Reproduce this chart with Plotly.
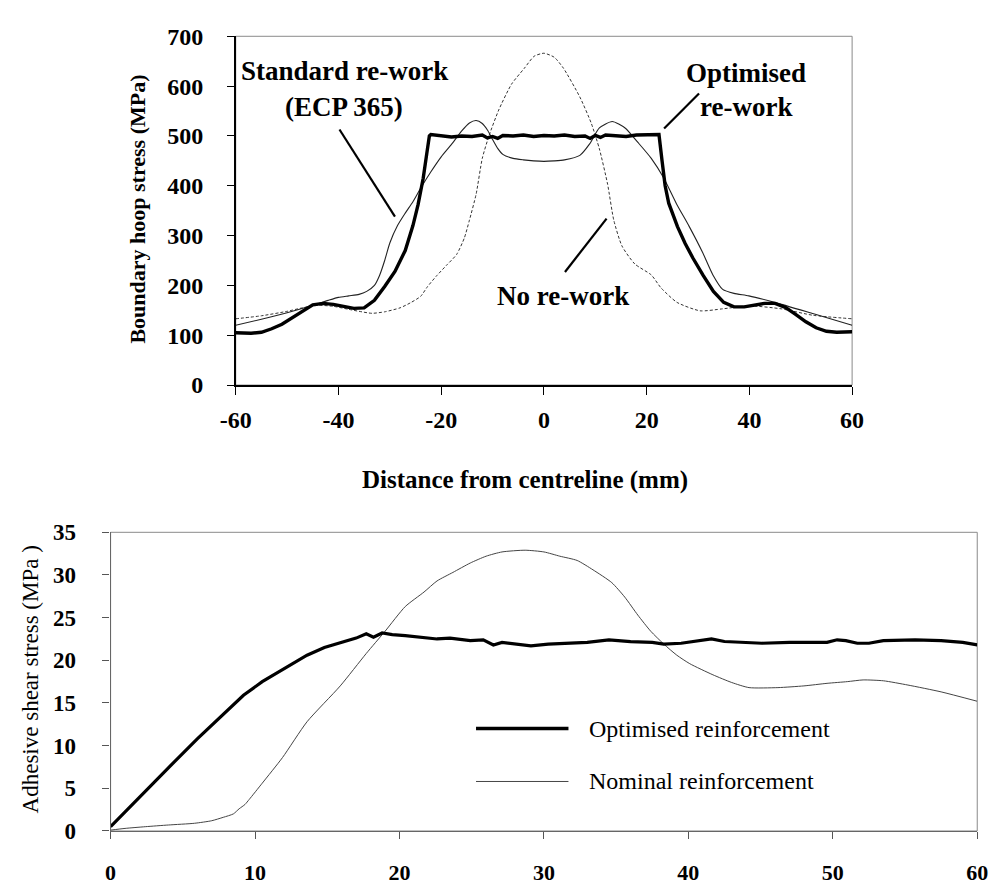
import plotly.graph_objects as go

W, H = 1008, 886
SERIF = "Liberation Serif"

# ---------------- Top chart data (boundary hoop stress) ----------------
opt_x = [-60, -57, -55, -53, -51, -49, -47, -45, -43, -41, -39, -37, -35, -33, -31, -29, -27,
         -25.5, -24.5, -23.5, -22.8, -22.3, -22, -20, -18, -16, -14, -12, -11, -10, -9, -8, -6,
         -4, -2, 0, 2, 4, 6, 8, 9, 10, 11, 12, 14, 16, 18, 20, 22, 22.4, 23.0, 23.6, 24.3, 25,
         26, 27.5, 29, 31, 33, 35, 37, 39, 41, 43, 45, 47, 49, 51, 53, 55, 57, 60]
opt_v = [105, 104, 106, 113, 122, 135, 150, 161, 164, 162, 158, 154, 155, 170, 198, 228, 270,
         320, 362, 415, 465, 500, 503, 501, 498, 500, 499, 502, 496, 499, 495, 501, 500,
         502, 499, 501, 500, 502, 499, 500, 495, 501, 497, 502, 500, 499, 502, 503, 504, 503,
         450, 400, 365, 345, 318, 284, 255, 220, 188, 166, 157, 157, 160, 164, 164, 156, 142,
         127, 115, 108, 106, 107]

std_x = [-60, -55, -50, -45, -42, -40, -38, -36, -34.5, -33, -32, -31, -30, -28.5, -27, -25.5,
         -24, -22, -20, -18, -16, -14.5, -13.2, -12, -11, -10, -9, -8, -6, -4, -2, 0, 2, 4, 7,
         8.9, 10.8, 13.3, 15.8, 18.3, 20.9, 23.3, 25.8, 28.3, 30.9, 32.9, 34.8, 37, 39.9, 44.9,
         52.5, 60]
std_v = [120, 132, 145, 160, 170, 176, 179, 182, 188, 200, 220, 250, 285, 320, 345, 368,
         395, 428, 458, 483, 510, 526, 531, 525, 512, 493, 475, 463, 455, 452, 450, 449, 450,
         452, 461, 484, 516, 529, 516, 487, 455, 416, 364, 318, 266, 221, 192, 184, 179, 166,
         143, 120]

nor_x = [-60, -55, -50, -47, -44, -41, -38, -36, -33.5, -31, -28, -26, -24, -22.7, -21, -19,
         -17, -15.5, -14.5, -13.2, -12, -10.7, -8.8, -6.3, -3.8, -1.9, 0, 2, 3.8, 7, 9.2, 10.8,
         12.4, 13.6, 15.2, 17.7, 20.9, 22.8, 25.9, 30.4, 34.8, 39.9, 46.2, 52.4, 60]
nor_v = [133, 139, 148, 155, 160, 158, 152, 148, 144, 147, 155, 165, 178, 197, 218, 240,
         262, 295, 331, 383, 455, 500, 552, 604, 636, 660, 666, 658, 636, 578, 526, 474,
         403, 331, 279, 243, 221, 195, 166, 149, 153, 159, 153, 140, 133]

top_ticks_x = [-60, -40, -20, 0, 20, 40, 60]
top_ticktext_x = ["-60", "-40", "-20", "0", "20", "40", "60"]
top_ticks_y = [0, 100, 200, 300, 400, 500, 600, 700]

# ---------------- Bottom chart data (adhesive shear stress) ----------------
optr_x = [0, 2, 4, 6, 8, 9.2, 10.5, 11.5, 12.5, 13.6, 14.8, 16, 17, 17.7, 18.2, 18.8, 19.5,
          20.4, 21.5, 22.6, 23.5, 24.9, 25.8, 26.5, 27.1, 28, 29.1, 30.3, 31.6, 33, 34.5, 36,
          37.5, 38.3, 39.5, 40.8, 41.6, 42.5, 43.5, 45.1, 47, 49.6, 50.3, 50.9, 51.7, 52.5,
          53.5, 55.7, 57.5, 59, 60]
optr_v = [0.5, 4.0, 7.4, 10.8, 14.0, 15.9, 17.5, 18.5, 19.6, 20.6, 21.5, 22.1, 22.6, 23.1,
          22.7, 23.2, 23.0, 22.9, 22.7, 22.5, 22.6, 22.3, 22.4, 21.8, 22.1, 21.9, 21.7, 21.9,
          22.0, 22.1, 22.4, 22.2, 22.1, 21.9, 22.0, 22.3, 22.5, 22.2, 22.1, 22.0, 22.1, 22.1,
          22.4, 22.3, 22.0, 22.0, 22.3, 22.4, 22.3, 22.1, 21.8]

nomr_x = [0, 1, 2.4, 4, 5.8, 7, 7.8, 8.5, 8.9, 9.3, 9.6, 10.5, 11.9, 13.6, 15.9, 17.7, 19.0,
          20.4, 21.7, 22.6, 23.7, 24.9, 26.0, 27.1, 28.7, 30, 31.1, 32.3, 33.4, 34.7, 35.6,
          36.5, 37.4, 38.3, 39.2, 40.1, 41.7, 43, 44.2, 46.2, 48, 49.6, 51, 52.1, 53.5, 55.2,
          57.5, 60]
nomr_v = [0.1, 0.3, 0.5, 0.7, 0.9, 1.2, 1.6, 2.0, 2.6, 3.1, 3.7, 5.6, 8.6, 12.8, 17.0, 20.8,
          23.4, 26.3, 28.0, 29.3, 30.3, 31.4, 32.2, 32.7, 32.9, 32.7, 32.2, 31.7, 30.6, 29.1,
          27.4, 25.3, 23.4, 21.9, 20.6, 19.6, 18.3, 17.4, 16.8, 16.8, 17.0, 17.3, 17.5, 17.7,
          17.6, 17.1, 16.3, 15.2]

bot_ticks_x = [0, 10, 20, 30, 40, 50, 60]
bot_ticks_y = [0, 5, 10, 15, 20, 25, 30, 35]

legend_names = ["Optimised reinforcement", "Nominal reinforcement"]

# ---------------- Figure ----------------
fig = go.Figure()

fig.add_trace(go.Scatter(x=nor_x, y=nor_v, mode="lines", xaxis="x", yaxis="y",
                         line=dict(color="#333333", width=1, dash="3px,2px", shape="spline",
                                   smoothing=0.6),
                         name="No re-work", showlegend=False))
fig.add_trace(go.Scatter(x=std_x, y=std_v, mode="lines", xaxis="x", yaxis="y",
                         line=dict(color="#222222", width=1.1, shape="spline", smoothing=0.6),
                         name="Standard re-work (ECP 365)", showlegend=False))
fig.add_trace(go.Scatter(x=opt_x, y=opt_v, mode="lines", xaxis="x", yaxis="y",
                         line=dict(color="#000000", width=3.4),
                         name="Optimised re-work", showlegend=False))

fig.add_trace(go.Scatter(x=nomr_x, y=nomr_v, mode="lines", xaxis="x2", yaxis="y2",
                         line=dict(color="#444444", width=1, shape="spline", smoothing=0.6),
                         name=legend_names[1], showlegend=False))
fig.add_trace(go.Scatter(x=optr_x, y=optr_v, mode="lines", xaxis="x2", yaxis="y2",
                         line=dict(color="#000000", width=3.2),
                         name=legend_names[0], showlegend=False))

bold_tick = dict(family=SERIF, size=24, color="black", weight="bold")
bold_tick_b = dict(family=SERIF, size=22, color="black", weight="bold")

top_x_dom = [226 / W, 860 / W]
top_y_dom = [1 - 383.3 / H, 1 - 24 / H]
bot_x_dom = [97.3 / W, 988.7 / W]
bot_y_dom = [1 - 842.7 / H, 1 - 535 / H]

fig.update_layout(
    width=W, height=H,
    margin=dict(l=0, r=0, t=0, b=0),
    paper_bgcolor="white", plot_bgcolor="white",
    showlegend=False,
    xaxis=dict(domain=top_x_dom, range=[-60, 60], tickvals=top_ticks_x, ticktext=top_ticktext_x,
               anchor="y",
               ticks="outside", ticklen=8, tickwidth=1, tickcolor="black",
               showline=True, linecolor="black", linewidth=1.5, showgrid=False,
               zeroline=False, tickfont=bold_tick, ticklabelstandoff=4),
    yaxis=dict(domain=top_y_dom, range=[0, 700], tickvals=top_ticks_y, anchor="x",
               ticks="outside", ticklen=7, tickwidth=1, tickcolor="black",
               showline=True, linecolor="black", linewidth=1.5, showgrid=False,
               zeroline=False, tickfont=bold_tick, ticklabelstandoff=19),
    xaxis3=dict(overlaying="x", anchor="y", range=[-60, 60], tickvals=top_ticks_x,
                ticks="inside", ticklen=7, tickwidth=1, tickcolor="black",
                showticklabels=False, showline=False, showgrid=False, zeroline=False),
    yaxis3=dict(overlaying="y", anchor="x", side="left", range=[0, 700], tickvals=top_ticks_y,
                ticks="inside", ticklen=6, tickwidth=1, tickcolor="black",
                showticklabels=False, showline=False, showgrid=False, zeroline=False),
    xaxis2=dict(domain=bot_x_dom, range=[0, 60], tickvals=bot_ticks_x, anchor="y2",
                ticks="outside", ticklen=7, tickwidth=1, tickcolor="#555555",
                showline=True, linecolor="#666666", linewidth=1.2, showgrid=False,
                zeroline=False, tickfont=bold_tick_b, ticklabelstandoff=15),
    yaxis2=dict(domain=bot_y_dom, range=[0, 35], tickvals=bot_ticks_y, anchor="x2",
                ticks="outside", ticklen=7, tickwidth=1, tickcolor="#555555",
                showline=True, linecolor="#666666", linewidth=1.2, showgrid=False,
                zeroline=False, tickfont=dict(family=SERIF, size=23, color="black",
                                              weight="bold"),
                ticklabelstandoff=22),
)

# plot frames (top/right borders in grey)
for xr, yr in (("x", "y"), ("x2", "y2")):
    fig.add_shape(type="rect", xref=f"{xr} domain", yref=f"{yr} domain",
                  x0=0, x1=1, y0=0, y1=1, line=dict(color="#8a8a8a", width=1),
                  layer="below")

# ---------------- Annotations: top chart ----------------
ann_font = dict(family=SERIF, size=27, color="black", weight="bold")
title_font = dict(family=SERIF, size=22, color="black", weight="bold")

def label(text, x, y, xref="x", yref="y", font=ann_font, xanchor="center",
          yanchor="middle", **kw):
    fig.add_annotation(text=text, x=x, y=y, xref=xref, yref=yref, showarrow=False,
                       font=font, xanchor=xanchor, yanchor=yanchor, **kw)

label("Standard re-work", -38.9, 630)
label("(ECP 365)", -38.9, 558)
label("Optimised", 39.3, 626)
label("re-work", 39.3, 558)
label("No re-work", 3.7, 178)

# leader lines
for (x0, y0, x1, y1) in [(-39.8, 513, -29.0, 338), (30.2, 585, 23.4, 515), (12.2, 334, 4.1, 227)]:
    fig.add_shape(type="line", xref="x", yref="y", x0=x0, y0=y0, x1=x1, y1=y1,
                  line=dict(color="black", width=2.2))

# axis titles
label("Distance from centreline (mm)", 523.5 / W, 1 - 481 / H, xref="paper", yref="paper",
      font=dict(family=SERIF, size=25, color="black", weight="bold"))
label("Boundary hoop stress (MPa)", 125 / W, 1 - 202 / H, xref="paper", yref="paper",
      font=title_font, textangle=-90)
label("Adhesive shear stress (MPa )", 15 / W, 1 - 687 / H, xref="paper", yref="paper",
      font=dict(family=SERIF, size=23, color="black"), textangle=-90)

# ---------------- Bottom chart legend (drawn) ----------------
leg_font = dict(family=SERIF, size=24, color="black")
fig.add_shape(type="line", xref="x2", yref="y2", x0=25.3, x1=31.7, y0=12.0, y1=12.0,
              line=dict(color="black", width=3.4))
fig.add_shape(type="line", xref="x2", yref="y2", x0=25.3, x1=31.7, y0=5.8, y1=5.8,
              line=dict(color="#444444", width=1))
label(legend_names[0], 33.0, 12.0, xref="x2", yref="y2", font=leg_font, xanchor="left")
label(legend_names[1], 33.0, 5.8, xref="x2", yref="y2", font=leg_font, xanchor="left")

fig.write_html("out.html")
